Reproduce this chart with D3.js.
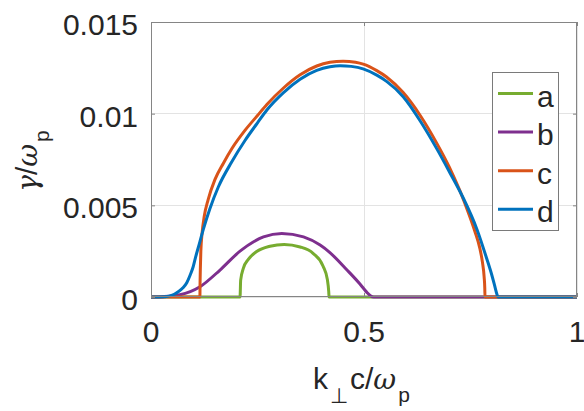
<!DOCTYPE html>
<html>
<head>
<meta charset="utf-8">
<script src="https://cdn.jsdelivr.net/npm/d3@7"></script>
<style>
  html, body { margin: 0; padding: 0; background: #fff; }
  svg { display: block; }
  text { font-family: "Liberation Sans", Arial, Helvetica, sans-serif; fill: #262626; }
</style>
</head>
<body>
<div id="chart"></div>
<script>
// ---- data ----
const xTicks = [0, 0.5, 1];
const xTickLabels = ["0", "0.5", "1"];
const yTicks = [0, 0.005, 0.01, 0.015];
const yTickLabels = ["0", "0.005", "0.01", "0.015"];
const seriesNames = ["a", "b", "c", "d"];
const seriesColors = ["#77AC30", "#7E2F8E", "#D95319", "#0072BD"];

// series a (green)
const kA = [0, 0.209, 0.2105, 0.2167, 0.2284, 0.2481, 0.2793, 0.3125, 0.350, 0.381, 0.404, 0.414, 0.4172, 0.418, 1];
const gA = [0, 0, 0.00092, 0.00156, 0.00205, 0.00248, 0.00277, 0.00287, 0.00273, 0.00237, 0.00168, 0.00095, 0.0003, 0, 0];

// series b (purple)
const kB = [0, 0.029, 0.068, 0.115, 0.162, 0.209, 0.264, 0.307, 0.358, 0.397, 0.420, 0.459, 0.490, 0.500, 0.508, 0.515, 0.523, 1];
const gB = [0, 0.00002, 0.00012, 0.00056, 0.00147, 0.00250, 0.00328, 0.00347, 0.00328, 0.00283, 0.00242, 0.00150, 0.00072, 0.00044, 0.00022, 0.00007, 0, 0];

// series c (orange)
const kC = [0, 0.1148, 0.1152, 0.1158, 0.117, 0.120, 0.125, 0.134, 0.150, 0.170, 0.190, 0.221, 0.250, 0.272, 0.311, 0.350, 0.389, 0.420, 0.451, 0.480, 0.498, 0.530, 0.553, 0.592, 0.632, 0.671, 0.700, 0.725, 0.745, 0.760, 0.772, 0.778, 0.782, 0.7835, 0.784, 1];
const gC = [0, 0, 0.0008, 0.0015, 0.0025, 0.0035, 0.0044, 0.0053, 0.0064, 0.0073, 0.0081, 0.0091, 0.0099, 0.01050, 0.01140, 0.01212, 0.01260, 0.01280, 0.01286, 0.01280, 0.01270, 0.01235, 0.01200, 0.01115, 0.00990, 0.00838, 0.00710, 0.00580, 0.00460, 0.00360, 0.00265, 0.0019, 0.0011, 0.0005, 0, 0];

// series d (blue)
const kD = [0, 0.033, 0.050, 0.064, 0.075, 0.084, 0.092, 0.099, 0.105, 0.111, 0.123, 0.138, 0.158, 0.189, 0.221, 0.250, 0.272, 0.311, 0.350, 0.389, 0.420, 0.444, 0.470, 0.498, 0.530, 0.553, 0.592, 0.632, 0.671, 0.700, 0.733, 0.765, 0.788, 0.800, 0.808, 0.812, 0.815, 1];
const gD = [0, 0.00002, 0.0001, 0.00029, 0.0005, 0.00078, 0.0012, 0.00165, 0.0022, 0.0027, 0.0037, 0.0048, 0.0060, 0.00735, 0.00855, 0.00950, 0.01020, 0.01115, 0.01188, 0.01236, 0.01256, 0.01262, 0.01258, 0.01244, 0.01210, 0.01176, 0.01092, 0.00960, 0.00808, 0.00685, 0.00540, 0.00370, 0.00210, 0.00120, 0.0005, 0.00015, 0, 0];

const seriesK = [kA, kB, kC, kD];
const seriesG = [gA, gB, gC, gD];

// ---- layout ----
const W = 584, H = 411;
const plot = { left: 151, right: 577, top: 22, bottom: 297 };

const svg = d3.select("#chart").append("svg").attr("width", W).attr("height", H);

const x = d3.scaleLinear().domain([0, 1]).range([plot.left, plot.right]);
const y = d3.scaleLinear().domain([0, 0.015]).range([plot.bottom, plot.top]);

// grid
const grid = svg.append("g");
xTicks.forEach(t => grid.append("line")
  .attr("x1", x(t)).attr("x2", x(t)).attr("y1", plot.top).attr("y2", plot.bottom)
  .attr("stroke", "#e3e3e3").attr("stroke-width", 1).attr("shape-rendering", "crispEdges"));
yTicks.forEach(t => grid.append("line")
  .attr("x1", plot.left).attr("x2", plot.right).attr("y1", y(t)).attr("y2", y(t))
  .attr("stroke", "#e3e3e3").attr("stroke-width", 1).attr("shape-rendering", "crispEdges"));

// curves
const line = d3.line().x(d => x(d[0])).y(d => y(d[1])).curve(d3.curveMonotoneX);
svg.append("clipPath").attr("id", "clip").append("rect")
  .attr("x", plot.left).attr("y", plot.top - 2).attr("width", plot.right - plot.left).attr("height", plot.bottom - plot.top + 4);
seriesNames.forEach((name, i) => {
  const pts = seriesK[i].map((k, j) => [k, seriesG[i][j]]);
  svg.append("path").datum(pts)
    .attr("d", line)
    .attr("fill", "none")
    .attr("stroke", seriesColors[i])
    .attr("stroke-width", 3)
    .attr("stroke-linejoin", "round")
    .attr("clip-path", "url(#clip)");
});

// axes with d3 axis generators (inward ticks on all four sides)
const axisColor = "#858585";
function styleAxis(g) {
  g.select(".domain").remove();
  g.selectAll(".tick line").attr("stroke", axisColor);
  g.selectAll(".tick text").remove();
}
svg.append("g").attr("transform", `translate(0,${plot.bottom})`)
  .call(d3.axisBottom(x).tickValues(xTicks).tickSize(-4)).call(styleAxis);
svg.append("g").attr("transform", `translate(0,${plot.top})`)
  .call(d3.axisTop(x).tickValues(xTicks).tickSize(-4)).call(styleAxis);
svg.append("g").attr("transform", `translate(${plot.left},0)`)
  .call(d3.axisLeft(y).tickValues(yTicks).tickSize(-4)).call(styleAxis);
svg.append("g").attr("transform", `translate(${plot.right},0)`)
  .call(d3.axisRight(y).tickValues(yTicks).tickSize(-4)).call(styleAxis);

// box
svg.append("rect")
  .attr("x", plot.left + 0.5).attr("y", plot.top + 0.5)
  .attr("width", plot.right - plot.left - 1).attr("height", plot.bottom - plot.top - 1)
  .attr("fill", "none").attr("stroke", axisColor).attr("stroke-width", 1);

// tick labels
xTicks.forEach((t, i) => svg.append("text")
  .attr("x", x(t)).attr("y", 342).attr("text-anchor", "middle")
  .attr("font-size", 30).text(xTickLabels[i]));
yTicks.forEach((t, i) => svg.append("text")
  .attr("x", plot.left - 13).attr("y", y(t) + 13).attr("text-anchor", "end")
  .attr("font-size", 30).text(yTickLabels[i]));

// x label: k⊥ c/ωp
const xl = svg.append("text").attr("x", 313).attr("y", 389).attr("font-size", 30);
xl.append("tspan").text("k");
xl.append("tspan").attr("font-size", 21).attr("dy", 14).attr("dx", 2).text("⊥");
xl.append("tspan").attr("dy", -14).attr("dx", 2).text("c/");
xl.append("tspan").attr("font-style", "italic").attr("font-family", "DejaVu Serif, serif").attr("font-size", 28).text("ω");
xl.append("tspan").attr("font-size", 21).attr("dy", 13).attr("dx", 2).text("p");

// y label: γ/ωp
const yl = svg.append("text")
  .attr("transform", "translate(37,161) rotate(-90)")
  .attr("text-anchor", "middle").attr("font-size", 30);
yl.append("tspan").attr("font-style", "italic").attr("font-family", "DejaVu Serif, serif").attr("font-size", 28).text("γ");
yl.append("tspan").text("/");
yl.append("tspan").attr("font-style", "italic").attr("font-family", "DejaVu Serif, serif").attr("font-size", 28).text("ω");
yl.append("tspan").attr("font-size", 21).attr("dy", 12).attr("dx", 2).text("p");

// legend
const lg = svg.append("g");
lg.append("rect").attr("x", 492.5).attr("y", 72.5).attr("width", 66).attr("height", 158)
  .attr("fill", "#fff").attr("stroke", "#7a7a7a").attr("stroke-width", 1);
seriesNames.forEach((name, i) => {
  const yy = 93.5 + i * 38.6;
  lg.append("line").attr("x1", 498).attr("x2", 533).attr("y1", yy).attr("y2", yy)
    .attr("stroke", seriesColors[i]).attr("stroke-width", 3);
  lg.append("text").attr("x", 537).attr("y", yy + 13).attr("font-size", 30).text(name);
});
</script>
</body>
</html>
